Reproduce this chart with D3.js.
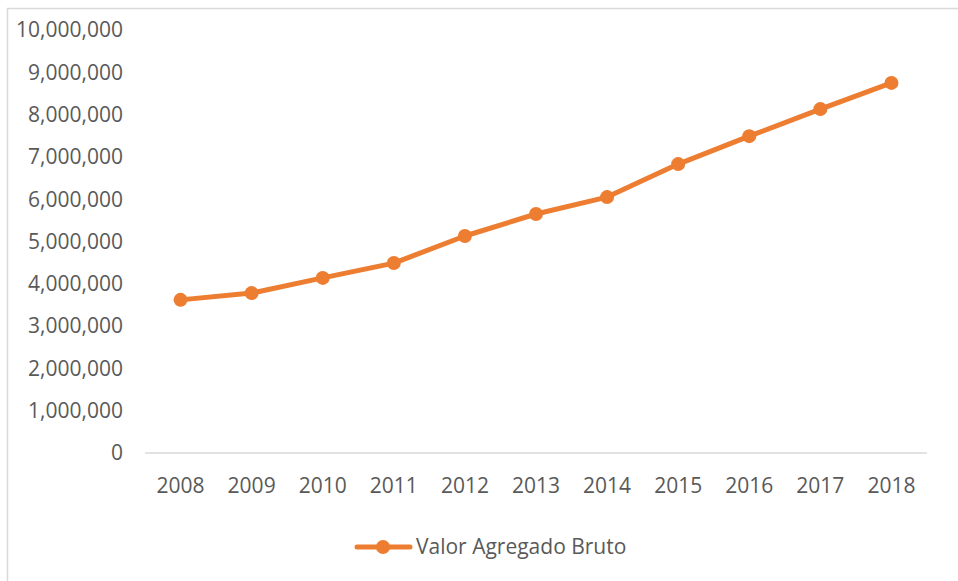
<!DOCTYPE html>
<html>
<head>
<meta charset="utf-8">
<script src="https://cdn.jsdelivr.net/npm/d3@7"></script>
<style>
  body { margin: 0; background: #fff; }
  text { font-family: "Open Sans", sans-serif; fill: #595959; }
</style>
</head>
<body>
<div id="chart"></div>
<script>
// values
var years = ["2008", "2009", "2010", "2011", "2012", "2013", "2014", "2015", "2016", "2017", "2018"];
var vab = [3620000, 3780000, 4140000, 4490000, 5130000, 5650000, 6050000, 6830000, 7490000, 8130000, 8750000];
var yTicks = [0, 1000000, 2000000, 3000000, 4000000, 5000000, 6000000, 7000000, 8000000, 9000000, 10000000];
var seriesName = "Valor Agregado Bruto";

var width = 958, height = 581;
var orange = "#ED7D31";

var svg = d3.select("#chart").append("svg")
    .attr("width", width)
    .attr("height", height);

// chart border
svg.append("rect")
    .attr("x", 7.5)
    .attr("y", 8.5)
    .attr("width", 1000)
    .attr("height", 1000)
    .attr("fill", "none")
    .attr("stroke", "#d9d9d9")
    .attr("stroke-width", 1.5);

var x = d3.scaleBand()
    .domain(years)
    .range([145, 927]);

var y = d3.scaleLinear()
    .domain([0, 10000000])
    .range([453, 30]);

var fmt = d3.format(",");

// y labels
svg.append("g").selectAll("text").data(yTicks)
    .enter()
    .append("text")
    .attr("x", 123)
    .attr("y", function(d){ return y(d); })
    .attr("dy", "0.35em")
    .attr("text-anchor", "end")
    .attr("font-size", "21px")
    .text(function(d){ return fmt(d); });

// x axis line
svg.append("line")
    .attr("x1", x.range()[0])
    .attr("x2", x.range()[1])
    .attr("y1", y(0))
    .attr("y2", y(0))
    .attr("stroke", "#d9d9d9")
    .attr("stroke-width", 1.5);

// x labels
svg.append("g").selectAll("text").data(years)
    .enter()
    .append("text")
    .attr("x", function(d){ return x(d) + x.bandwidth() / 2; })
    .attr("y", 486)
    .attr("dy", "0.35em")
    .attr("text-anchor", "middle")
    .attr("font-size", "21px")
    .text(function(d){ return d; });

var line = d3.line()
    .x(function(d, i){ return x(years[i]) + x.bandwidth() / 2; })
    .y(function(d){ return y(d); });

svg.append("path")
    .datum(vab)
    .attr("d", line)
    .attr("fill", "none")
    .attr("stroke", orange)
    .attr("stroke-width", 5)
    .attr("stroke-linejoin", "round");

svg.append("g").selectAll("circle").data(vab)
    .enter()
    .append("circle")
    .attr("cx", function(d, i){ return x(years[i]) + x.bandwidth() / 2; })
    .attr("cy", function(d){ return y(d); })
    .attr("r", 7)
    .attr("fill", orange);

// legend
var legend = svg.append("g");
legend.append("line")
    .attr("x1", 357)
    .attr("x2", 410)
    .attr("y1", 547)
    .attr("y2", 547)
    .attr("stroke", orange)
    .attr("stroke-width", 5)
    .attr("stroke-linecap", "round");
legend.append("circle")
    .attr("cx", 383)
    .attr("cy", 547)
    .attr("r", 7)
    .attr("fill", orange);
legend.append("text")
    .attr("x", 416)
    .attr("y", 547)
    .attr("dy", "0.35em")
    .attr("font-size", "21px")
    .text(seriesName);
</script>
</body>
</html>
